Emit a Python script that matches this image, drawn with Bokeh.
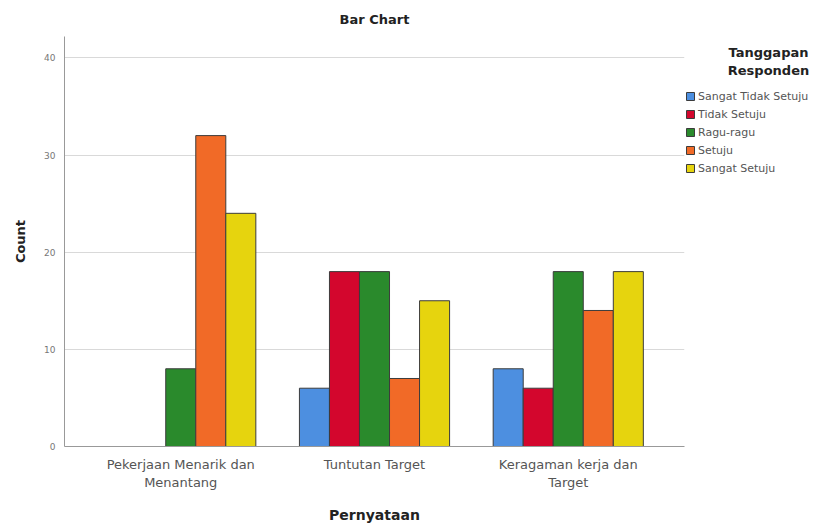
from bokeh.plotting import figure
from bokeh.layouts import row
from bokeh.models import (ColumnDataSource, FactorRange, Range1d, Legend, LegendItem, Label,
                          FixedTicker)
from bokeh.transform import dodge
from bokeh.embed import file_html
from bokeh.resources import INLINE

groups = ["Pekerjaan Menarik dan\nMenantang", "Tuntutan Target", "Keragaman kerja dan\nTarget"]
responses = ["Sangat Tidak Setuju", "Tidak Setuju", "Ragu-ragu", "Setuju", "Sangat Setuju"]
sangat_tidak_setuju = [0, 6, 8]
tidak_setuju = [0, 18, 6]
ragu_ragu = [8, 18, 18]
setuju = [32, 7, 14]
sangat_setuju = [24, 15, 18]
y_ticks = [0, 10, 20, 30, 40]

series = [sangat_tidak_setuju, tidak_setuju, ragu_ragu, setuju, sangat_setuju]
colors = ["#4d8fe0", "#d3062d", "#2a8a2c", "#f16a27", "#e6d40e"]

FONT = "DejaVu Sans"

x_range = FactorRange(factors=groups, range_padding=0.1, range_padding_units="absolute")
y_range = Range1d(0, 42.2)

# main chart
p = figure(width=685, height=525, output_backend="svg", toolbar_location=None,
           x_range=x_range, y_range=y_range,
           min_border_left=64, min_border_right=1, min_border_top=35, min_border_bottom=79)
p.outline_line_color = None

p.title.text = "Bar Chart"
p.title.align = "center"
p.title.text_font = FONT
p.title.text_font_size = "13px"
p.title.text_font_style = "bold"
p.title.text_color = "#222222"
p.title.standoff = 19

# legend panel (its frame is aligned with the main frame by the row layout)
p2 = figure(width=134, height=525, output_backend="svg", toolbar_location=None,
            x_range=x_range, y_range=y_range, x_axis_location=None, y_axis_location=None,
            min_border=0)
p2.outline_line_color = None
p2.grid.visible = False

bw = 0.155
items = []
for i, (name, vals, c) in enumerate(zip(responses, series, colors)):
    xs = [g for g, v in zip(groups, vals) if v > 0]
    ys = [v for v in vals if v > 0]
    src = ColumnDataSource(dict(x=xs, top=ys))
    style = dict(width=bw, source=src, fill_color=c, line_color="#3c3c3c", line_width=1)
    p.vbar(x=dodge("x", (i - 2) * bw, range=x_range), top="top", **style)
    r2 = p2.vbar(x=dodge("x", (i - 2) * bw, range=x_range), top="top", visible=False, **style)
    items.append(LegendItem(label=name, renderers=[r2]))

legend = Legend(items=items, location=(0, 271), padding=0, margin=0, spacing=4,
                border_line_color=None, background_fill_alpha=0,
                glyph_width=10, glyph_height=10, label_height=14, label_standoff=3,
                label_text_font=FONT, label_text_font_size="11px", label_text_color="#555555")
p2.add_layout(legend, "center")

for txt, yy in [("Tanggapan", 394), ("Responden", 376)]:
    p2.add_layout(Label(x=83, y=yy, x_units="screen", y_units="screen", text=txt,
                        text_align="center", text_baseline="middle", text_font=FONT,
                        text_font_size="13px", text_font_style="bold", text_color="#222222"))

p.xgrid.grid_line_color = None
p.ygrid.grid_line_color = "#d9d9d9"
p.yaxis.ticker = FixedTicker(ticks=y_ticks)
p.yaxis.minor_tick_line_color = None
p.yaxis.major_tick_line_color = None
p.yaxis.major_tick_out = 0
p.yaxis.major_tick_in = 0
p.yaxis.major_label_standoff = 9
p.yaxis.major_label_text_font = FONT
p.yaxis.major_label_text_font_size = "9px"
p.yaxis.major_label_text_color = "#777777"
p.yaxis.axis_line_color = "#999999"
p.yaxis.axis_label = "Count"
p.yaxis.axis_label_standoff = 13
p.yaxis.axis_label_text_font = FONT
p.yaxis.axis_label_text_font_size = "13px"
p.yaxis.axis_label_text_font_style = "bold"
p.yaxis.axis_label_text_color = "#222222"

p.xaxis.major_tick_line_color = None
p.xaxis.major_tick_out = 0
p.xaxis.major_tick_in = 0
p.xaxis.axis_line_color = "#999999"
p.xaxis.major_label_text_font = FONT
p.xaxis.major_label_text_font_size = "13px"
p.xaxis.major_label_text_color = "#555555"
p.xaxis.major_label_standoff = 10
p.xaxis.axis_label = "Pernyataan"
p.xaxis.axis_label_text_font = FONT
p.xaxis.axis_label_text_font_size = "14px"
p.xaxis.axis_label_text_font_style = "bold"
p.xaxis.axis_label_text_color = "#222222"
p.xaxis.axis_label_standoff = 14

open("out.html", "w").write(file_html(row(p, p2), INLINE))
